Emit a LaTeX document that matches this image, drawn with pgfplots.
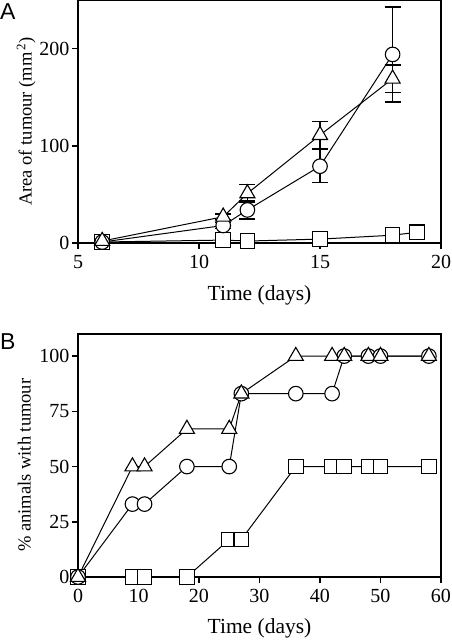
\documentclass[border=0pt]{standalone}
\usepackage{fontspec}
\setmainfont{Liberation Serif}
\newfontfamily\arial{Liberation Sans}
\usepackage{pgfplots}
\pgfplotsset{compat=1.18}
\pgfplotsset{
 common/.style={
  scale only axis, width=363pt, height=243pt,
  axis line style={line width=2pt},
  tick style={line width=1.6pt, black},
  major tick length=6pt,
  tick align=outside,
  xtick pos=left, ytick pos=left,
  clip=false,
  /pgf/number format/assume math mode=true,
  ticklabel style={font=\fontsize{20}{20}\selectfont},
  xticklabel style={yshift=-3pt},
  yticklabel style={xshift=1pt},
  xlabel style={font=\fontsize{21.5}{21.5}\selectfont},
  ylabel style={font=\fontsize{18.5}{18.5}\selectfont},
  every axis plot/.append style={line width=1pt, black},
 },
 circ/.style={mark=*, mark size=7.3pt, mark options={fill=white, draw=black, line width=1.1pt}},
 tri/.style={mark=triangle*, mark size=8.7pt, mark options={fill=white, draw=black, line width=1.1pt}},
 sq/.style={mark=square*, mark size=7.3pt, mark options={fill=white, draw=black, line width=1.1pt}},
 eb/.style={error bars/.cd, y dir=both, y explicit, error bar style={line width=1.4pt, black}, error mark options={rotate=90, mark size=8pt, line width=1.4pt}},
}
\begin{document}
\begin{tikzpicture}
\useasboundingbox (0pt,0pt) rectangle (452pt,641pt);
% Panel A
\begin{axis}[common, at={(78pt,398pt)}, anchor=south west,
  xmin=5, xmax=20, ymin=0, ymax=250,
  xtick={5,10,15,20}, ytick={0,100,200},
  xlabel={Time (days)}, ylabel={Area of tumour (mm\textsuperscript{\,2})},
  xlabel style={at={(axis description cs:0.5,-0.214)}, anchor=center},
  ylabel style={at={(axis description cs:-0.143,0.5)}, anchor=center},
]
\addplot[sq] coordinates {(6,1) (11,3) (12,2) (15,4) (18,8) (19,11)};
\addplot[circ, eb] coordinates {(6,1) +- (0,0) (11,18) +- (0,3) (12,34) +- (0,9.5) (15,79) +- (0,17) (18,194) +- (0,49)};
\addplot[tri, eb] coordinates {(6,2) +- (0,0) (11,27) +- (0,3) (12,51) +- (0,9) (15,111) +- (0,14) (18,169) +- (0,14)};
\end{axis}
\node[anchor=north west, inner sep=0pt, font=\arial\fontsize{23}{23}\selectfont] at (0pt,638pt) {A};
% Panel B
\begin{axis}[common, at={(78pt,64pt)}, anchor=south west,
  xmin=0, xmax=60, ymin=0, ymax=110,
  xtick={0,10,...,60}, ytick={0,25,50,75,100},
  xlabel={Time (days)}, ylabel={\% animals with tumour},
  xlabel style={at={(axis description cs:0.5,-0.21)}, anchor=center},
  ylabel style={at={(axis description cs:-0.148,0.46)}, anchor=center},
]
\addplot[sq] coordinates {(0,0) (9,0) (11,0) (18,0) (25,17) (27,17) (36,50) (42,50) (44,50) (48,50) (50,50) (58,50)};
\addplot[circ] coordinates {(0,0) (9,33) (11,33) (18,50) (25,50) (27,83) (36,83) (42,83) (44,100) (48,100) (50,100) (58,100)};
\addplot[tri] coordinates {(0,0) (9,50) (11,50) (18,67) (25,67) (27,83) (36,100) (42,100) (44,100) (48,100) (50,100) (58,100)};
\end{axis}
\node[anchor=north west, inner sep=0pt, font=\arial\fontsize{23}{23}\selectfont] at (0pt,308pt) {B};
\end{tikzpicture}
\end{document}
